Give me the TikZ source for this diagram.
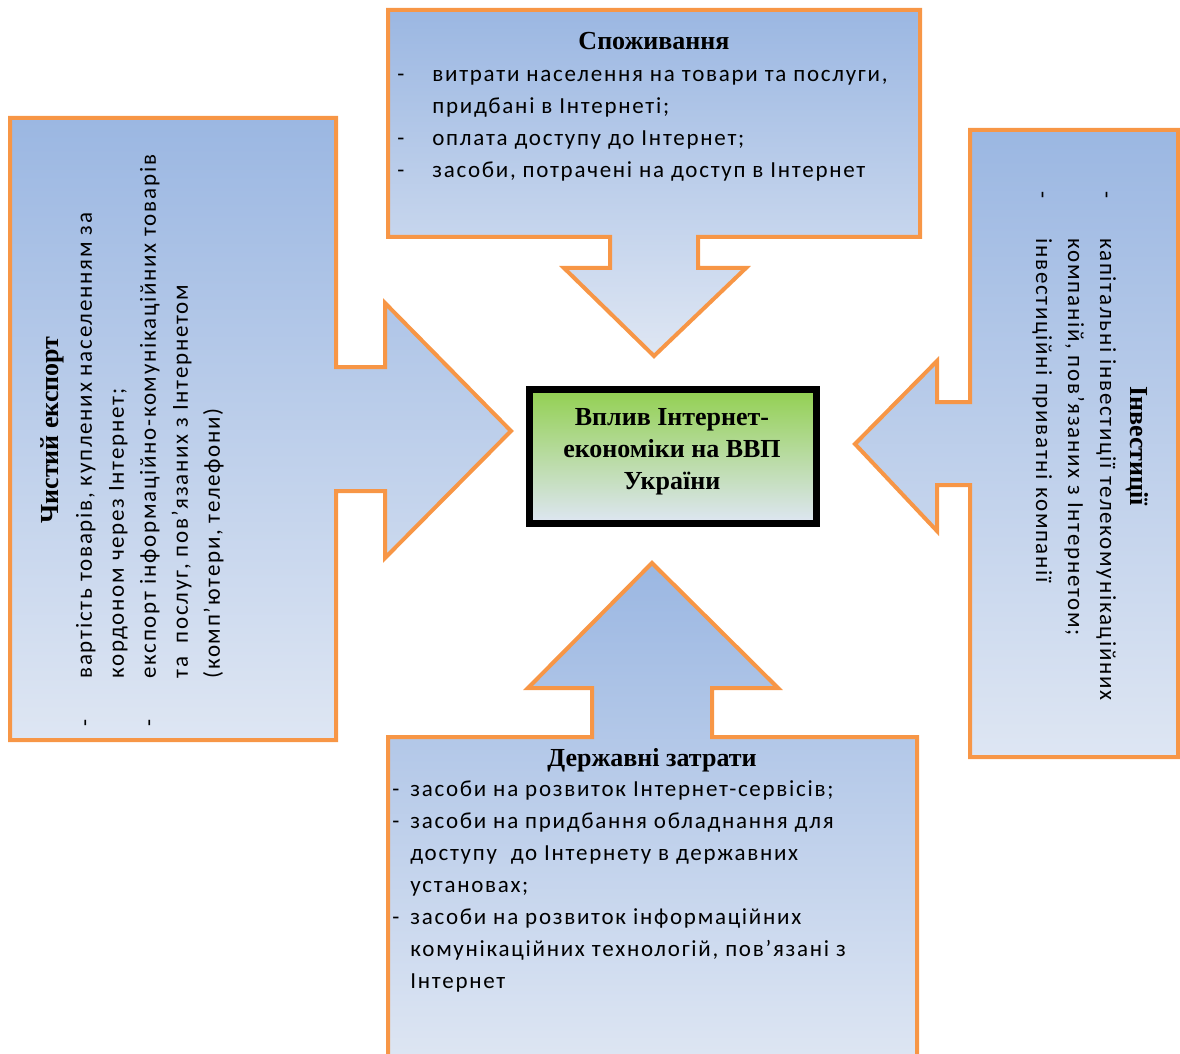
\documentclass[tikz,border=0pt]{standalone}
\usepackage{fontspec}
\setmainfont{Liberation Serif}
\newfontfamily\bodyfont[LetterSpace=7.5]{Carlito}
\usepackage{xcolor}
\usepackage{array}
\usepackage{tikz}
\usetikzlibrary{positioning}

\definecolor{boxtop}{RGB}{155,183,226}
\definecolor{boxbot}{RGB}{222,230,243}
\definecolor{calloutorange}{RGB}{247,150,70}
\definecolor{centgreen}{RGB}{146,208,80}
\definecolor{centmid}{RGB}{186,205,230}

\begin{document}
\begin{tikzpicture}[x=0.5pt, y=-0.5pt,
  callout/.style={draw=calloutorange, line width=2pt, top color=boxtop, bottom color=boxbot},
  titletxt/.style={font=\fontsize{13}{16}\selectfont\bfseries, inner sep=0pt},
  bodytxt/.style={font=\fontsize{11.5}{16}\selectfont\bodyfont, inner sep=0pt, anchor=north west}]
  \useasboundingbox (0,0) rectangle (1180,1054);
  \clip (0,0) rectangle (1180,1054);

  %--- Top callout: consumption ---
  \path[callout] (388,10) -- (920,10) -- (920,237) -- (698,237) -- (698,268)
    -- (746,268) -- (654,356) -- (564,268) -- (610,268) -- (610,237)
    -- (388,237) -- cycle;
  \node[titletxt] (spoz) at (654,41) {Споживання};
  \node[bodytxt] (spozlist) at (397,59) {%
    \begin{tabular}{@{}p{17.5pt}@{}l@{}}
      - & витрати населення на товари та послуги,\\
        & придбані в Інтернеті;\\
      - & оплата доступу до Інтернет;\\
      - & засоби, потрачені на доступ в Інтернет
    \end{tabular}};

  %--- Left callout: net export ---
  \path[callout] (10,118) -- (336,118) -- (336,367) -- (385,367) -- (385,303)
    -- (511,431) -- (385,558) -- (385,491) -- (336,491) -- (336,740)
    -- (10,740) -- cycle;
  \node[titletxt, rotate=90] (eksport) at (52,430) {Чистий експорт};
  \node[bodytxt, rotate=90] (eksportlist) at (69,727) {%
    \begin{tabular}{@{}p{24pt}@{}l@{}}
      - & вартість товарів, куплених населенням за\\
        & кордоном через Інтернет;\\
      - & експорт інформаційно-комунікаційних товарів\\
        & та\ \ послуг, пов’язаних з Інтернетом\\
        & (комп’ютери, телефони)
    \end{tabular}};

  %--- Right callout: investments ---
  \path[callout] (970,130) -- (1178,130) -- (1178,757) -- (970,757) -- (970,485)
    -- (937,485) -- (937,531) -- (855,444) -- (937,361) -- (937,402)
    -- (970,402) -- cycle;
  \node[titletxt, rotate=-90] (invest) at (1137,446) {Інвестиції};
  \node[bodytxt, rotate=-90] (investlist) at (1123,191) {%
    \begin{tabular}{@{}p{23.5pt}@{}l@{}}
      - & капітальні інвестиції телекомунікаційних\\
        & компаній, пов’язаних з Інтернетом;\\
      - & інвестиційні приватні компанії
    \end{tabular}};

  %--- Bottom callout: government spending ---
  \path[callout] (388,737) -- (592,737) -- (592,688) -- (528,688) -- (652,563)
    -- (778,688) -- (712,688) -- (712,737) -- (917,737) -- (917,1064)
    -- (388,1064) -- cycle;
  \node[titletxt] (derzh) at (652,760) {Державні затрати};
  \node[bodytxt] (derzhlist) at (392,774) {%
    \begin{tabular}{@{}p{9pt}@{}l@{}}
      - & засоби на розвиток Інтернет-сервісів;\\
      - & засоби на придбання обладнання для\\
        & доступу\ \ до Інтернету в державних\\
        & установах;\\
      - & засоби на розвиток інформаційних\\
        & комунікаційних технологій, пов’язані з\\
        & Інтернет
    \end{tabular}};

  %--- Centre box ---
  \path[draw=black, line width=3.5pt, top color=centgreen, middle color=centmid,
    bottom color=boxbot] (529,389) rectangle (816,523);
  \node[titletxt, align=center] (vplyv) at (672,452)
    {Вплив Інтернет-\\економіки на ВВП\\України};
\end{tikzpicture}
\end{document}
